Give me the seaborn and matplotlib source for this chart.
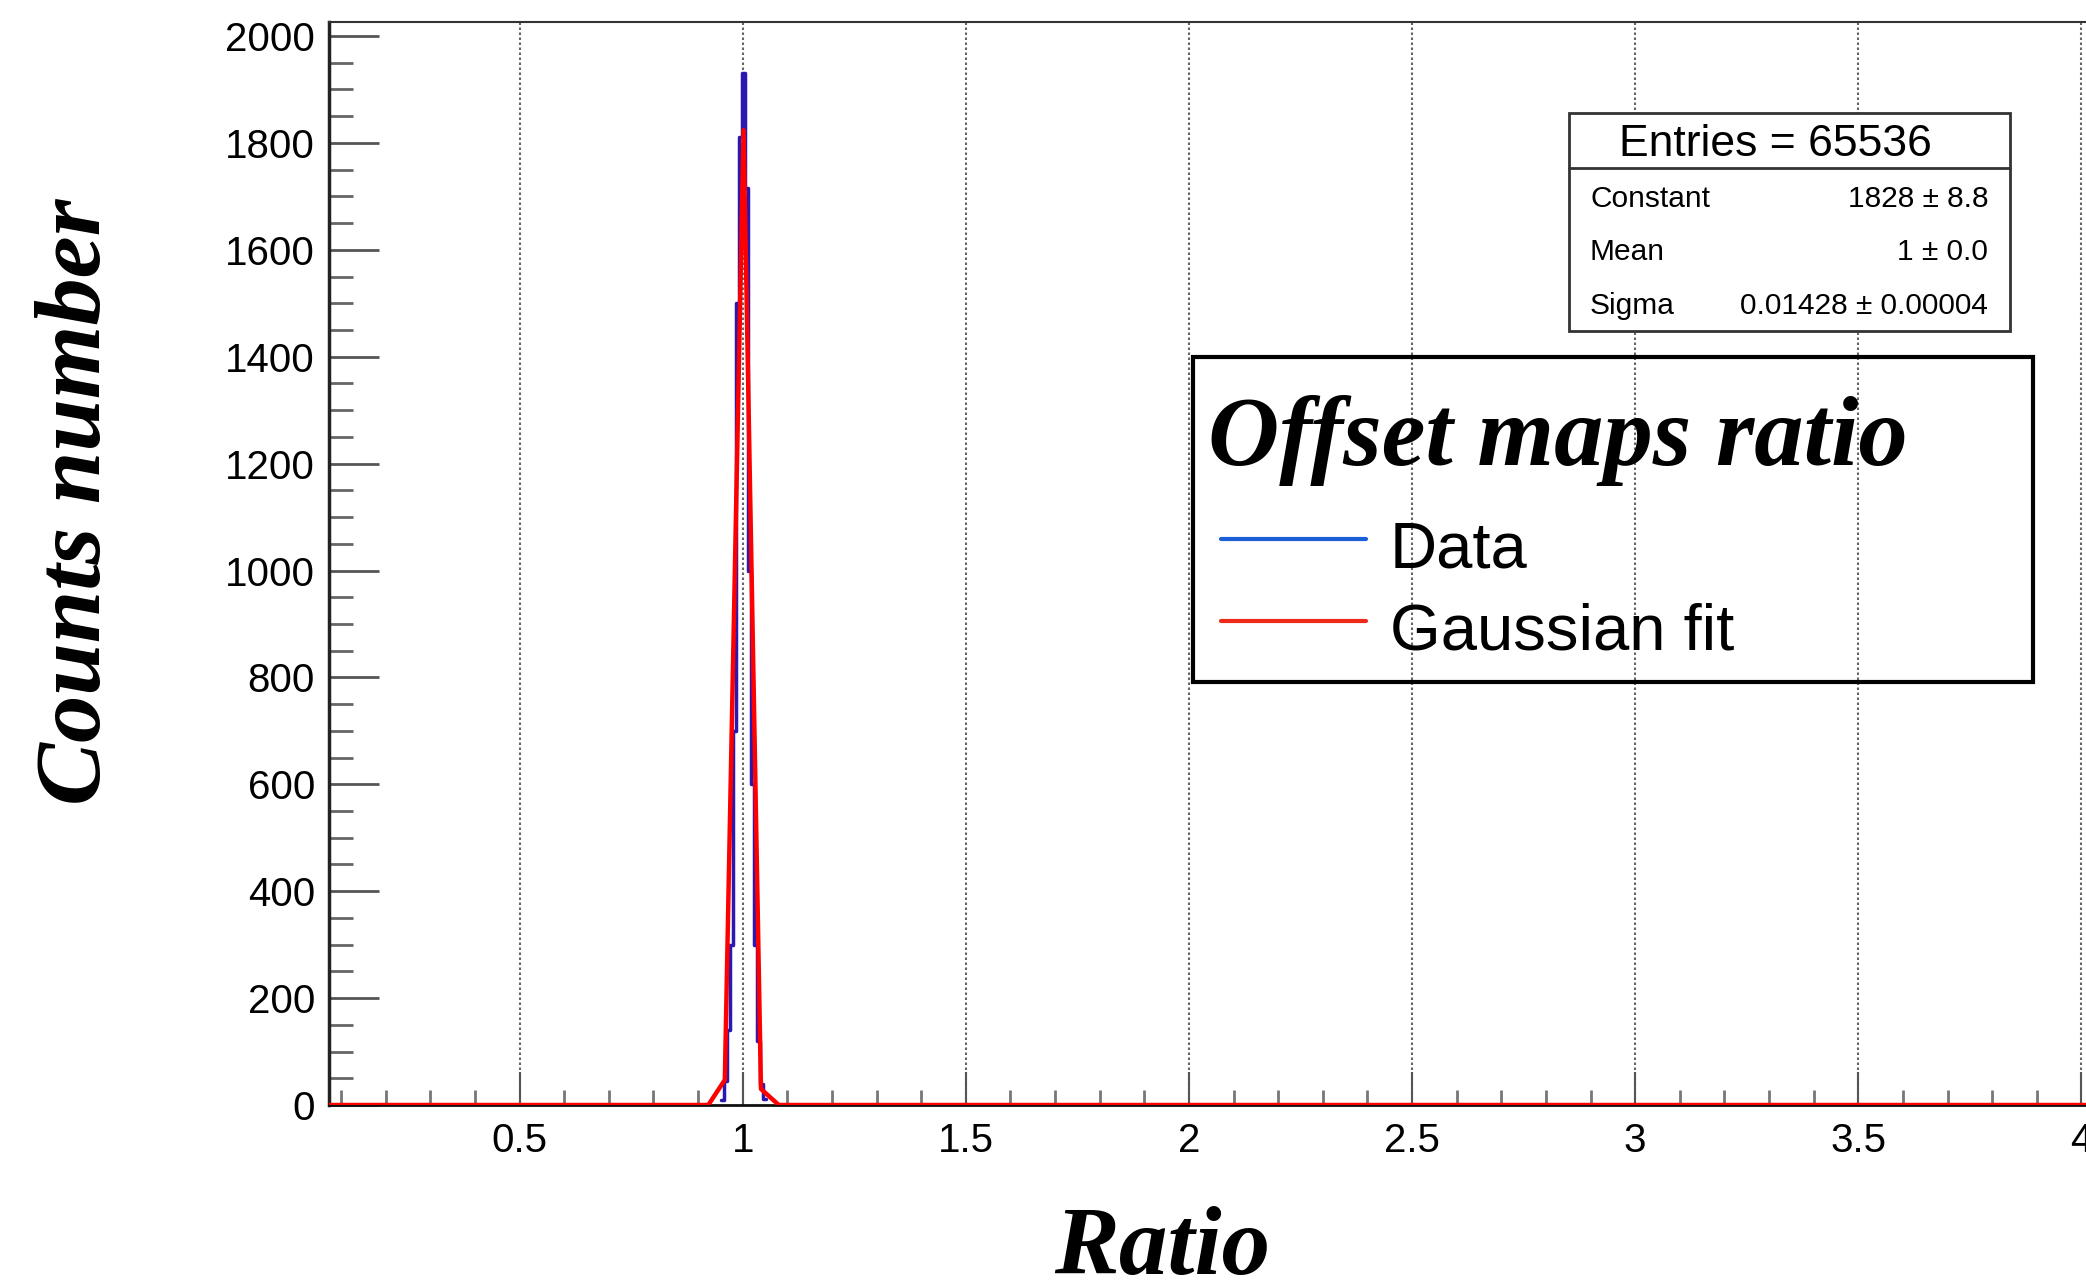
import matplotlib
matplotlib.use("Agg")
import matplotlib.pyplot as plt
import seaborn as sns
import numpy as np
import pandas as pd
from matplotlib.lines import Line2D
from matplotlib.patches import Rectangle
from matplotlib.ticker import MultipleLocator, FuncFormatter

# ---------------------------------- data ----------------------------------

# histogram of the ratio (only the bins around the peak are non-zero)
bin_width = 0.0067
bin_start = 0.998 - 7 * bin_width
hist_counts = [10, 45, 140, 300, 700, 1500, 1812, 1931, 1716, 1000, 600, 300, 120, 40, 12]

# gaussian fit polyline as drawn
fit_x = [0.073, 0.923, 0.960, 1.002, 1.041, 1.081, 4.10]
fit_y = [0, 0, 47, 1824, 30, 0, 0]

stats_entries = 65536
stats_names = ["Constant", "Mean", "Sigma"]
stats_values = ["1828 ± 8.8", "1 ± 0.0", "0.01428 ± 0.00004"]

legend_title = "Offset maps ratio"
legend_labels = ["Data", "Gaussian fit"]

x_range = (0.073, 4.10)
y_range = (0, 2027)

# ---------------------------------- style ----------------------------------

sns.set_style("white")
plt.rcParams['font.family'] = ['Liberation Sans', 'DejaVu Sans']
plt.rcParams['text.color'] = 'black'
plt.rcParams['axes.labelcolor'] = 'black'
plt.rcParams['xtick.labelcolor'] = 'black'
plt.rcParams['ytick.labelcolor'] = 'black'

W, H = 2086, 1280
serif_bi = dict(family='Liberation Serif', weight='bold', style='italic')


def fx(px):
    return px / W


def fy(py):
    return 1 - py / H


fig = plt.figure(figsize=(W / 100, H / 100), dpi=100)
ax = fig.add_axes([fx(329), 175 / H, 1797 / W, 1083.4 / H])

# ---------------------------------- plot ----------------------------------

edges = [bin_start + bin_width * k for k in range(len(hist_counts) + 1)]
centers = [(a + b) / 2 for a, b in zip(edges[:-1], edges[1:])]
hist_df = pd.DataFrame({'ratio': centers, 'counts': hist_counts})

sns.histplot(data=hist_df, x='ratio', weights='counts', bins=edges, element='step',
             fill=False, color='#2a18b0', linewidth=2.5, ax=ax, zorder=4)
sns.lineplot(x=fit_x, y=fit_y, color='#ff0000', linewidth=3.2, ax=ax, zorder=5)

ax.set_xlim(*x_range)
ax.set_ylim(*y_range)

ax.xaxis.set_major_locator(MultipleLocator(0.5))
ax.xaxis.set_minor_locator(MultipleLocator(0.1))
ax.yaxis.set_major_locator(MultipleLocator(200))
ax.yaxis.set_minor_locator(MultipleLocator(50))
ax.xaxis.set_major_formatter(FuncFormatter(lambda v, p: f"{v:g}"))

ax.tick_params(axis='y', which='major', direction='in', length=36, width=2, color='#555',
               labelsize=29, pad=10, left=True, labelcolor='black')
ax.tick_params(axis='y', which='minor', direction='in', length=17, width=2, color='#666', left=True)
ax.tick_params(axis='x', which='major', direction='in', length=24, width=1.5, color='#555',
               labelsize=29, pad=12, bottom=True, labelcolor='black')
ax.tick_params(axis='x', which='minor', direction='in', length=11, width=2, color='#777', bottom=True)

ax.grid(axis='x', which='major', linestyle=(0, (1.2, 1.2)), color='#666', linewidth=1.5)
ax.grid(axis='y', visible=False)

ax.spines['right'].set_visible(False)
ax.spines['left'].set_linewidth(2.5)
ax.spines['left'].set_color('#222')
ax.spines['top'].set_linewidth(1.5)
ax.spines['top'].set_color('#333')
ax.spines['bottom'].set_linewidth(2)
ax.spines['bottom'].set_color('#111')

ax.set_xlabel('Ratio', fontsize=70, color='black', **serif_bi)
ax.xaxis.label.set_va('baseline')
ax.xaxis.set_label_coords((1162 - 329) / 1797, (1105 - 1274) / 1083.4)
ax.set_ylabel('Counts number', fontsize=68, color='black', **serif_bi)
ax.yaxis.label.set_va('baseline')
ax.yaxis.set_label_coords((100 - 329) / 1797, (1105 - 502) / 1083.4)

# ---------------------------------- stats box ----------------------------------

fig.add_artist(Rectangle((fx(1569), fy(331)), (2010 - 1569) / W, (331 - 113) / H,
                         transform=fig.transFigure, facecolor='white', edgecolor='#333', linewidth=2))
fig.add_artist(Line2D([fx(1569), fx(2010)], [fy(168), fy(168)], transform=fig.transFigure,
                      color='#333', linewidth=2))
fig.text(fx(1775), fy(156), f"Entries = {stats_entries}", ha='center', va='baseline', fontsize=32)
for i, (name, val) in enumerate(zip(stats_names, stats_values)):
    base = 207 + i * 53.5
    fig.text(fx(1590), fy(base), name, ha='left', va='baseline', fontsize=21.5)
    fig.text(fx(1988), fy(base), val, ha='right', va='baseline', fontsize=21.5)

# ---------------------------------- legend ----------------------------------

fig.add_artist(Rectangle((fx(1193), fy(682)), 840 / W, 325 / H, transform=fig.transFigure,
                         fill=False, edgecolor='black', linewidth=3))
fig.text(fx(1208), fy(465), legend_title, ha='left', va='baseline', fontsize=71, **serif_bi)
legend_colors = ['#1a5fd6', '#ee2a1a']
for i, (lab, col) in enumerate(zip(legend_labels, legend_colors)):
    yl = 539 + i * 82
    fig.add_artist(Line2D([fx(1221), fx(1366)], [fy(yl), fy(yl)], transform=fig.transFigure,
                          color=col, linewidth=3))
    fig.text(fx(1390), fy(yl + 28), lab, ha='left', va='baseline', fontsize=47)

fig.savefig('out.png', dpi=100)
